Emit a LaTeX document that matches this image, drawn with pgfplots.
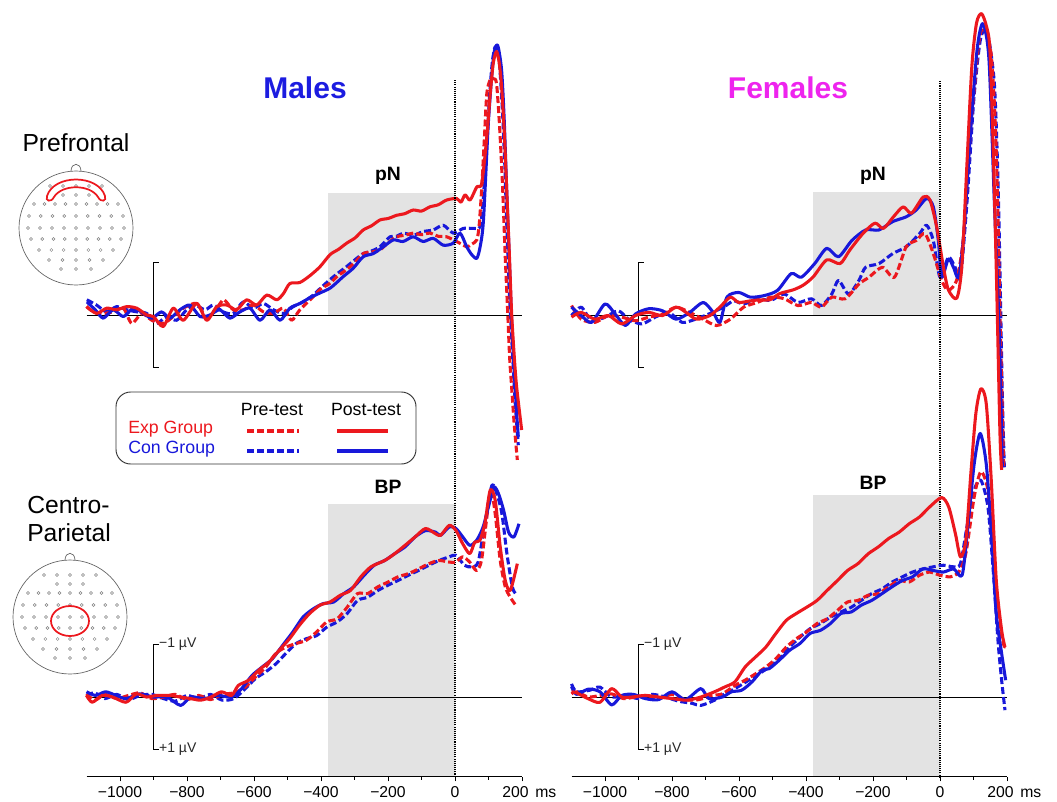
\documentclass[border=0pt]{standalone}
\usepackage{fontspec}
\setmainfont{Liberation Sans}
\usepackage{pgfplots}
\pgfplotsset{compat=1.18}

\definecolor{expred}{RGB}{236,24,30}
\definecolor{conblue}{RGB}{24,24,218}
\definecolor{maletitle}{RGB}{28,28,224}
\definecolor{femtitle}{RGB}{238,36,238}
\definecolor{window}{RGB}{227,227,227}
\definecolor{headline}{RGB}{95,95,95}

\pgfplotsset{
  erp panel/.style={
    x=0.25125pt, y=39.375pt, y dir=reverse,
    xmin=-1100, xmax=200, ymin=-6, ymax=#1,
    hide axis, clip=false, anchor=north west,
  },
  time axis/.style={
    x=0.25125pt, y=1pt, xmin=-1100, xmax=200, ymin=0, ymax=1,
    anchor=south west,
    axis x line*=bottom, axis y line=none,
    xtick={-1000,-800,-600,-400,-200,0,200},
    xticklabels={−1000,−800,−600,−400,−200,0,{200\rule{9.75pt}{0pt}}},
    minor xtick={-900,-700,-500,-300,-100,100},
    xtick align=outside,
    major tick length=3.6pt, minor tick length=2.6pt,
    tick style={black, line width=0.7pt},
    axis line style={black, line width=0.9pt},
    xticklabel style={font=\fontsize{11.8}{14}\selectfont, inner sep=1pt, yshift=-2.6pt},
  },
  wave/.style={smooth, tension=0.45, line width=2.3pt, mark=none, line join=round},
  pre/.style={wave, dash pattern=on 5.2pt off 2.3pt},
  post/.style={wave},
}

% scalp outline with electrode grid, centred at (#1,#2) in pixel units
\newcommand{\scalp}[2]{%
  \begin{scope}[shift={(#1,#2)}]
    \draw[headline, line width=0.5pt] (0,0) circle[radius=57];
    \draw[headline, line width=0.5pt] (-5,-56.8) .. controls (-5,-66) and (5,-66) .. (5,-56.8);
    \foreach \dy/\n/\hw in {-42/5/26, -33/3/13, -24/9/42, -12/9/47, 0/9/48, 11/9/45, 22/7/37, 32/5/27, 41/3/15} {
      \pgfmathsetmacro\stp{2*\hw/(\n-1)}
      \foreach \k in {1,...,\n} {
        \draw[gray, line width=0.3pt] ({-\hw+(\k-1)*\stp},\dy) circle[radius=1.5];
      }
    }
  \end{scope}}

\begin{document}
\begin{tikzpicture}
\useasboundingbox (0pt,0pt) rectangle (792.75pt,-600.75pt);

\begin{scope}[x=0.75pt, y=-0.75pt]
% ---------- titles and region labels ----------
\node[font=\bfseries\fontsize{22.5}{26}\selectfont, text=maletitle] at (305,88) {Males};
\node[font=\bfseries\fontsize{22.5}{26}\selectfont, text=femtitle] at (788,88) {Females};
\node[font=\fontsize{18.5}{21}\selectfont] at (76,143) {Prefrontal};
\node[font=\fontsize{18.5}{21}\selectfont, anchor=west, inner sep=0pt] at (27,505) {Centro-};
\node[font=\fontsize{18.5}{21}\selectfont, anchor=west, inner sep=0pt] at (27,533) {Parietal};

% ---------- electrode maps ----------
\scalp{76}{228}
\draw[expred, line width=1.3pt] (76,228) ++(-29,-32) .. controls +(7,-22) and +(-7,-22) .. ++(58,0)
  .. controls +(2,5) and +(3,6) .. ++(-7,1) .. controls +(-8,-13) and +(8,-13) .. ++(-44,0)
  .. controls +(-3,6) and +(-2,5) .. cycle;
\scalp{70}{617}
\draw[expred, line width=1.3pt] (70,621) ellipse [x radius=19, y radius=15];

% ---------- legend ----------
\draw[black!80, line width=0.7pt, rounded corners=11pt] (116,392) rectangle (416,464);
\node[font=\fontsize{13.3}{15}\selectfont] at (272,409) {Pre-test};
\node[font=\fontsize{13.3}{15}\selectfont] at (366,409) {Post-test};
\node[font=\fontsize{13.3}{15}\selectfont, text=expred, anchor=west, inner sep=0pt] at (128,429) {Exp Group};
\node[font=\fontsize{13.3}{15}\selectfont, text=conblue, anchor=west, inner sep=0pt] at (128,449) {Con Group};
\draw[expred, line width=2.3pt, dash pattern=on 5.2pt off 2.3pt] (247,431) -- (299,431);
\draw[expred, line width=2.3pt] (337,431) -- (388,431);
\draw[conblue, line width=2.3pt, dash pattern=on 5.2pt off 2.3pt] (247,451) -- (299,451);
\draw[conblue, line width=2.3pt] (337,451) -- (388,451);

\node[font=\fontsize{11.8}{14}\selectfont, anchor=base west, inner sep=0pt] at (535,797) {ms};
\node[font=\fontsize{11.8}{14}\selectfont, anchor=base west, inner sep=0pt] at (1020,797) {ms};
\end{scope}

% ================= Males, prefrontal =================
\begin{axis}[erp panel=3.2, at={(64.875pt,0pt)}]
  \fill[window] (axis cs:-380,0) rectangle (axis cs:0,-2.33);
  \draw[black, line width=0.75pt] (axis cs:-1100,0) -- (axis cs:200,0);
  \draw[black, line width=0.9pt] (axis cs:-885,-1) -- (axis cs:-900,-1) -- (axis cs:-900,1) -- (axis cs:-885,1);
  \node[font=\bfseries\fontsize{14.5}{16}\selectfont] at (axis cs:-200,-2.65) {pN};
  % Con group, pre-test
  \addplot[pre, conblue] coordinates {
    (-1099,-0.29)(-1070,-0.19)(-1040,-0.06)(-1010,-0.16)(-980,-0.10)(-950,-0.06)(-920,-0.03)(-891,0.16)
    (-861,0.03)(-831,0.10)(-801,-0.10)(-776,-0.19)(-746,-0.10)(-721,-0.19)(-692,-0.06)(-662,-0.03)
    (-632,-0.25)(-602,-0.13)(-572,-0.22)(-542,-0.10)(-512,-0.03)(-483,-0.16)(-453,-0.25)(-423,-0.38)
    (-400,-0.52)(-374,-0.67)(-349,-0.80)(-324,-0.92)(-299,-1.05)(-274,-1.17)(-249,-1.22)(-224,-1.30)
    (-194,-1.49)(-174,-1.50)(-154,-1.56)(-124,-1.52)(-95,-1.59)(-65,-1.62)(-35,-1.71)(-5,-1.56)
    (25,-1.65)(55,-1.65)(75,-1.68)(83,-2.10)(90,-2.76)(98,-3.60)(105,-4.35)(112,-4.85)(120,-5.11)
    (130,-4.98)(137,-4.40)(143,-3.71)(149,-2.80)(154,-1.81)(161,-0.60)(169,0.41)(179,1.60)(189,2.48)};
  % Exp group, pre-test
  \addplot[pre, expred] coordinates {
    (-1100,-0.16)(-1079,-0.06)(-1050,-0.03)(-1020,-0.06)(-990,-0.13)(-965,0.16)(-935,-0.03)(-905,0.10)
    (-871,0.16)(-841,0.03)(-811,-0.13)(-771,-0.22)(-741,0.06)(-711,-0.13)(-690,-0.29)(-662,-0.10)
    (-632,-0.10)(-602,-0.19)(-572,-0.06)(-542,-0.03)(-512,-0.13)(-488,0.10)(-463,-0.10)(-423,-0.35)
    (-400,-0.50)(-374,-0.60)(-349,-0.75)(-324,-0.86)(-299,-1.00)(-274,-1.17)(-249,-1.20)(-224,-1.24)
    (-199,-1.38)(-174,-1.49)(-149,-1.52)(-124,-1.56)(-100,-1.53)(-75,-1.56)(-50,-1.50)(-25,-1.49)
    (5,-1.40)(35,-1.30)(50,-1.35)(65,-1.43)(72,-1.70)(80,-2.44)(88,-3.40)(95,-4.22)(105,-4.48)
    (115,-4.50)(124,-4.41)(133,-3.60)(142,-2.44)(150,-1.10)(157,-0.10)(163,0.80)(169,1.37)(177,2.10)(186,2.76)};
  % Con group, post-test
  \addplot[post, conblue] coordinates {
    (-1099,-0.25)(-1074,-0.10)(-1050,0.06)(-1020,-0.10)(-990,0.03)(-960,-0.13)(-930,-0.03)(-905,0.06)
    (-876,-0.06)(-851,0.06)(-821,-0.10)(-791,-0.19)(-761,0.03)(-732,0)(-702,-0.10)(-672,0.06)
    (-642,-0.06)(-612,-0.13)(-582,0.10)(-552,-0.10)(-522,0.10)(-493,-0.13)(-463,-0.22)(-433,-0.33)
    (-403,-0.42)(-371,-0.52)(-334,-0.73)(-304,-0.89)(-274,-1.11)(-244,-1.17)(-214,-1.30)(-184,-1.43)
    (-155,-1.40)(-125,-1.49)(-95,-1.40)(-65,-1.46)(-35,-1.33)(-5,-1.37)(15,-1.56)(35,-1.30)(50,-1.15)
    (65,-1.08)(75,-1.30)(85,-1.81)(100,-3.71)(115,-4.92)(127,-5.14)(139,-4.67)(147,-3.70)(154,-2.44)
    (162,-1.10)(169,0.10)(177,1.10)(184,1.87)(189,2.32)};
  % Exp group, post-test
  \addplot[post, expred] coordinates {
    (-1100,-0.16)(-1070,-0.03)(-1040,-0.13)(-1010,-0.10)(-980,-0.16)(-950,-0.13)(-920,0)(-900,0.03)
    (-871,0.22)(-841,-0.13)(-811,0.10)(-771,-0.22)(-741,0.10)(-711,-0.16)(-681,-0.19)(-652,-0.10)
    (-622,-0.29)(-592,-0.19)(-562,-0.38)(-532,-0.29)(-512,-0.41)(-493,-0.60)(-463,-0.62)(-433,-0.75)
    (-403,-0.92)(-373,-1.15)(-348,-1.25)(-323,-1.37)(-298,-1.47)(-274,-1.62)(-249,-1.70)(-224,-1.81)
    (-199,-1.84)(-174,-1.90)(-150,-1.93)(-125,-2.00)(-100,-1.98)(-75,-2.06)(-50,-2.10)(-25,-2.19)
    (5,-2.22)(18,-2.15)(30,-2.29)(45,-2.19)(65,-2.44)(80,-2.51)(95,-3.40)(105,-4.20)(114,-4.79)
    (124,-5.02)(132,-4.80)(139,-4.35)(147,-3.50)(154,-2.44)(162,-1.20)(169,-0.04)(177,0.80)(184,1.37)(199,2.19)};
\end{axis}

% ================= Females, prefrontal =================
\begin{axis}[erp panel=3.2, at={(428.625pt,0pt)}]
  \fill[window] (axis cs:-380,0) rectangle (axis cs:0,-2.35);
  \draw[black, line width=0.75pt] (axis cs:-1100,0) -- (axis cs:200,0);
  \draw[black, line width=0.9pt] (axis cs:-885,-1) -- (axis cs:-900,-1) -- (axis cs:-900,1) -- (axis cs:-885,1);
  \node[font=\bfseries\fontsize{14.5}{16}\selectfont] at (axis cs:-200,-2.65) {pN};
  \addplot[pre, conblue] coordinates {
    (-1100,0.01)(-1071,-0.15)(-1040,0.11)(-1000,0.04)(-960,-0.08)(-930,0.08)(-890,0.17)(-850,0.04)
    (-810,-0.05)(-770,0.14)(-730,0.08)(-690,-0.02)(-646,-0.15)(-616,-0.27)(-586,-0.21)(-545,-0.31)
    (-505,-0.28)(-465,-0.40)(-424,-0.24)(-384,-0.31)(-354,-0.18)(-323,-0.40)(-303,-0.66)(-273,-0.40)
    (-242,-0.66)(-222,-0.91)(-182,-0.98)(-141,-1.17)(-101,-1.30)(-61,-1.55)(-40,-1.71)(-20,-1.42)
    (0,-0.72)(25,-1.10)(45,-0.91)(61,-0.72)(81,-2.19)(101,-4.11)(121,-5.26)(141,-5.39)(162,-4.43)
    (173,-2.60)(180,-0.50)(186,1.50)(192,2.90)};
  \addplot[pre, expred] coordinates {
    (-1100,-0.18)(-1071,0.08)(-1030,0.14)(-990,0.01)(-950,0.04)(-909,0.11)(-869,0.04)(-828,-0.02)
    (-788,-0.15)(-747,-0.05)(-707,0.08)(-667,0.20)(-626,0.08)(-586,-0.15)(-545,-0.24)(-505,-0.34)
    (-465,-0.31)(-424,-0.18)(-384,-0.24)(-354,-0.15)(-323,-0.34)(-283,-0.31)(-242,-0.59)(-212,-0.72)
    (-172,-0.91)(-136,-0.72)(-101,-1.30)(-71,-1.42)(-45,-1.55)(-20,-1.17)(5,-0.66)(25,-0.47)(51,-0.69)
    (71,-1.55)(91,-3.50)(116,-5.20)(131,-5.45)(152,-5.00)(164,-3.80)(172,-2.20)(180,0.30)(190,2.90)};
  \addplot[post, conblue] coordinates {
    (-1100,-0.15)(-1071,0.01)(-1040,0.14)(-1000,-0.21)(-970,-0.02)(-939,0.20)(-909,-0.02)(-869,-0.12)
    (-828,-0.08)(-788,0.08)(-747,-0.05)(-707,-0.24)(-677,-0.05)(-657,0.14)(-636,-0.34)(-601,-0.43)
    (-566,-0.34)(-525,-0.37)(-485,-0.47)(-444,-0.79)(-414,-0.72)(-374,-0.98)(-338,-1.27)(-303,-1.11)
    (-263,-1.42)(-222,-1.62)(-182,-1.62)(-141,-1.78)(-101,-1.87)(-71,-2.00)(-40,-2.22)(-20,-2.06)
    (-5,-1.42)(5,-0.72)(25,-1.07)(40,-0.91)(56,-0.72)(71,-1.55)(91,-3.47)(111,-5.07)(128,-5.55)
    (146,-4.88)(162,-2.19)(177,0.36)(186,2.90)};
  \addplot[post, expred] coordinates {
    (-1100,0.04)(-1071,-0.05)(-1030,0.08)(-990,0.01)(-950,0.17)(-909,0.01)(-869,-0.05)(-828,0.01)
    (-788,-0.15)(-758,-0.05)(-727,0.08)(-687,0.01)(-657,-0.15)(-626,-0.34)(-601,-0.24)(-566,-0.27)
    (-537,-0.29)(-508,-0.29)(-478,-0.41)(-438,-0.48)(-408,-0.57)(-378,-0.73)(-338,-1.05)(-298,-0.98)
    (-269,-1.24)(-229,-1.56)(-194,-1.75)(-169,-1.65)(-139,-1.87)(-110,-2.06)(-85,-1.94)(-50,-2.25)
    (-30,-2.19)(-10,-1.68)(10,-0.92)(25,-0.48)(50,-0.32)(65,-0.92)(80,-2.82)(95,-4.73)(109,-5.56)
    (124,-5.74)(139,-5.49)(149,-5.05)(159,-3.14)(169,-0.60)(179,2.26)(184,2.95)};
\end{axis}

% ================= Males, centro-parietal =================
\begin{axis}[erp panel=1.524, at={(64.875pt,-286.5pt)}]
  \fill[window] (axis cs:-380,1.524) rectangle (axis cs:0,-3.67);
  \draw[black, line width=0.8pt, dash pattern=on 0.8pt off 0.8pt] (axis cs:0,-11.75) -- (axis cs:0,1.524);
  \draw[black, line width=0.75pt] (axis cs:-1100,0) -- (axis cs:200,0);
  \draw[black, line width=0.9pt] (axis cs:-885,-1) -- (axis cs:-900,-1) -- (axis cs:-900,1) -- (axis cs:-885,1);
  \node[font=\fontsize{10.5}{12}\selectfont, text=black!85, anchor=west, inner sep=1pt] at (axis cs:-888,-1) {−1 µV};
  \node[font=\fontsize{10.5}{12}\selectfont, text=black!85, anchor=west, inner sep=1pt] at (axis cs:-888,1) {+1 µV};
  \node[font=\bfseries\fontsize{14.5}{16}\selectfont] at (axis cs:-200,-4.0) {BP};
  \addplot[pre, conblue] coordinates {
    (-1100,-0.03)(-1075,-0.08)(-1045,0.03)(-1010,-0.05)(-975,0.05)(-940,-0.03)(-905,-0.05)(-870,0.03)
    (-835,0.08)(-800,-0.03)(-765,0.03)(-730,-0.05)(-695,0.06)(-660,0.03)(-626,-0.16)(-596,-0.35)
    (-565,-0.48)(-535,-0.63)(-505,-0.83)(-474,-1.02)(-444,-1.11)(-413,-1.17)(-383,-1.33)(-352,-1.43)
    (-322,-1.59)(-291,-1.84)(-261,-1.90)(-230,-2.03)(-200,-2.13)(-170,-2.22)(-139,-2.32)(-109,-2.41)
    (-78,-2.51)(-48,-2.60)(-17,-2.67)(3,-2.70)(28,-2.51)(49,-2.48)(69,-2.57)(89,-3.30)(110,-4.03)
    (125,-3.87)(140,-3.49)(155,-2.73)(171,-2.10)(181,-1.97)};
  \addplot[pre, expred] coordinates {
    (-1100,-0.06)(-1075,0.06)(-1045,-0.05)(-1010,0.03)(-975,-0.03)(-940,-0.08)(-905,0.03)(-870,0)
    (-835,-0.05)(-800,0.05)(-765,-0.03)(-730,0.05)(-695,-0.05)(-660,-0.08)(-626,-0.19)(-596,-0.38)
    (-565,-0.57)(-535,-0.83)(-505,-0.95)(-474,-1.02)(-444,-1.08)(-413,-1.24)(-383,-1.43)(-352,-1.49)
    (-322,-1.71)(-291,-1.97)(-261,-1.97)(-230,-2.10)(-200,-2.19)(-170,-2.29)(-139,-2.35)(-109,-2.44)
    (-78,-2.54)(-48,-2.60)(-17,-2.57)(3,-2.57)(23,-2.67)(44,-2.57)(64,-2.41)(79,-2.60)(94,-3.37)
    (107,-3.94)(120,-3.49)(135,-2.60)(150,-2.10)(165,-1.90)(181,-1.75)};
  \addplot[post, conblue] coordinates {
    (-1100,-0.10)(-1073,-0.03)(-1043,-0.10)(-1012,-0.03)(-982,0.03)(-941,-0.06)(-900,0)(-860,0)
    (-819,0.16)(-789,0)(-748,0.03)(-708,-0.03)(-667,0)(-637,-0.16)(-606,-0.41)(-576,-0.57)(-545,-0.73)
    (-515,-0.98)(-484,-1.24)(-454,-1.52)(-423,-1.68)(-393,-1.78)(-362,-1.81)(-332,-1.97)(-302,-2.10)
    (-271,-2.32)(-241,-2.51)(-210,-2.60)(-180,-2.73)(-149,-2.86)(-119,-3.05)(-88,-3.17)(-58,-3.14)
    (-43,-3.08)(-17,-3.24)(3,-3.21)(23,-3.05)(44,-2.89)(64,-2.98)(84,-3.24)(105,-3.75)(117,-4.00)
    (130,-3.87)(145,-3.56)(160,-3.14)(176,-3.05)(191,-3.30)};
  \addplot[post, expred] coordinates {
    (-1100,-0.03)(-1083,0.10)(-1053,-0.03)(-1022,0)(-982,0.10)(-951,-0.06)(-921,0)(-890,-0.03)
    (-850,-0.03)(-820,0)(-789,0.03)(-759,0.06)(-728,0)(-697,-0.10)(-667,-0.03)(-647,-0.22)(-616,-0.32)
    (-586,-0.51)(-555,-0.67)(-525,-0.89)(-494,-1.11)(-464,-1.37)(-434,-1.59)(-403,-1.75)(-373,-1.81)
    (-342,-1.94)(-312,-2.03)(-281,-2.29)(-251,-2.48)(-210,-2.60)(-180,-2.73)(-149,-2.89)(-119,-3.05)
    (-88,-3.21)(-58,-3.11)(-43,-3.08)(-17,-3.27)(3,-3.17)(23,-2.92)(44,-2.73)(59,-2.95)(74,-2.98)
    (89,-3.30)(105,-3.94)(120,-3.75)(135,-2.86)(150,-2.22)(165,-2.03)(186,-2.54)};
\end{axis}

% ================= Females, centro-parietal =================
\begin{axis}[erp panel=1.524, at={(428.625pt,-286.5pt)}]
  \fill[window] (axis cs:-380,1.524) rectangle (axis cs:0,-3.84);
  \draw[black, line width=0.8pt, dash pattern=on 0.8pt off 0.8pt] (axis cs:0,-11.73) -- (axis cs:0,1.524);
  \draw[black, line width=0.75pt] (axis cs:-1100,0) -- (axis cs:200,0);
  \draw[black, line width=0.9pt] (axis cs:-885,-1) -- (axis cs:-900,-1) -- (axis cs:-900,1) -- (axis cs:-885,1);
  \node[font=\fontsize{10.5}{12}\selectfont, text=black!85, anchor=west, inner sep=1pt] at (axis cs:-888,-1) {−1 µV};
  \node[font=\fontsize{10.5}{12}\selectfont, text=black!85, anchor=west, inner sep=1pt] at (axis cs:-888,1) {+1 µV};
  \node[font=\bfseries\fontsize{14.5}{16}\selectfont] at (axis cs:-200,-4.08) {BP};
  \addplot[pre, conblue] coordinates {
    (-1100,-0.25)(-1085,-0.10)(-1045,-0.13)(-1015,-0.19)(-980,0)(-940,-0.03)(-900,0.03)(-860,-0.05)
    (-820,0)(-780,0.08)(-740,0.12)(-714,0.16)(-673,0.06)(-643,-0.06)(-612,-0.16)(-571,-0.32)(-541,-0.44)
    (-510,-0.57)(-480,-0.73)(-449,-0.95)(-418,-1.14)(-388,-1.30)(-357,-1.40)(-327,-1.52)(-296,-1.62)
    (-265,-1.71)(-235,-1.84)(-204,-1.97)(-173,-2.06)(-143,-2.19)(-112,-2.29)(-82,-2.38)(-51,-2.44)
    (-20,-2.48)(10,-2.51)(41,-2.48)(61,-2.54)(82,-3.30)(102,-3.94)(122,-4.13)(143,-3.62)(158,-2.48)
    (173,-1.08)(184,-0.32)(194,0.25)};
  \addplot[pre, expred] coordinates {
    (-1100,-0.06)(-1085,-0.10)(-1050,0)(-1015,-0.03)(-980,-0.06)(-945,0.03)(-910,0)(-875,-0.03)
    (-840,0.03)(-800,-0.05)(-760,0.05)(-720,0.05)(-680,-0.03)(-650,-0.06)(-612,-0.22)(-582,-0.32)
    (-551,-0.44)(-520,-0.57)(-490,-0.73)(-459,-0.95)(-429,-1.11)(-398,-1.24)(-367,-1.40)(-337,-1.49)
    (-306,-1.65)(-276,-1.81)(-245,-1.84)(-214,-1.94)(-184,-1.97)(-153,-2.10)(-122,-2.22)(-92,-2.19)
    (-61,-2.32)(-31,-2.38)(0,-2.32)(31,-2.29)(56,-2.38)(77,-2.73)(102,-3.81)(122,-4.29)(143,-3.94)
    (158,-2.86)(173,-1.59)(189,-1.02)(196,-0.95)};
  \addplot[post, conblue] coordinates {
    (-1100,-0.20)(-1085,-0.05)(-1050,-0.15)(-1015,-0.10)(-980,0.15)(-950,-0.03)(-915,-0.05)(-880,0.03)
    (-840,0.05)(-800,-0.10)(-760,0.05)(-714,-0.16)(-690,0.03)(-650,0)(-622,-0.10)(-592,-0.13)(-561,-0.29)
    (-531,-0.51)(-510,-0.54)(-480,-0.70)(-449,-0.89)(-418,-1.02)(-388,-1.21)(-357,-1.27)(-327,-1.40)
    (-296,-1.59)(-265,-1.62)(-235,-1.75)(-204,-1.84)(-173,-1.97)(-143,-2.10)(-112,-2.22)(-82,-2.29)
    (-51,-2.44)(-20,-2.41)(10,-2.38)(41,-2.44)(66,-2.32)(82,-3.17)(102,-4.44)(120,-5.02)(138,-4.44)
    (153,-3.17)(168,-1.59)(184,-0.83)(196,-0.32)};
  \addplot[post, expred] coordinates {
    (-1100,-0.10)(-1085,-0.08)(-1051,0.03)(-1015,0.10)(-980,-0.16)(-950,0)(-920,0)(-880,-0.03)
    (-840,0)(-800,0.03)(-755,0.06)(-714,0)(-673,-0.10)(-643,-0.19)(-612,-0.29)(-582,-0.57)(-551,-0.76)
    (-520,-0.95)(-490,-1.21)(-459,-1.46)(-429,-1.59)(-398,-1.71)(-367,-1.84)(-337,-2.03)(-306,-2.22)
    (-276,-2.41)(-245,-2.54)(-214,-2.73)(-184,-2.86)(-153,-3.02)(-122,-3.14)(-92,-3.30)(-61,-3.43)
    (-31,-3.62)(5,-3.80)(26,-3.62)(46,-3.11)(61,-2.67)(77,-2.98)(92,-4.25)(107,-5.40)(122,-5.87)
    (138,-5.59)(153,-4.13)(168,-2.22)(184,-1.27)(194,-0.95)};
\end{axis}

% ---------- time axes ----------
\begin{axis}[time axis, at={(64.875pt,-582.375pt)}]
\end{axis}
\begin{axis}[time axis, at={(428.625pt,-582.375pt)}]
\end{axis}

\end{tikzpicture}
\end{document}
